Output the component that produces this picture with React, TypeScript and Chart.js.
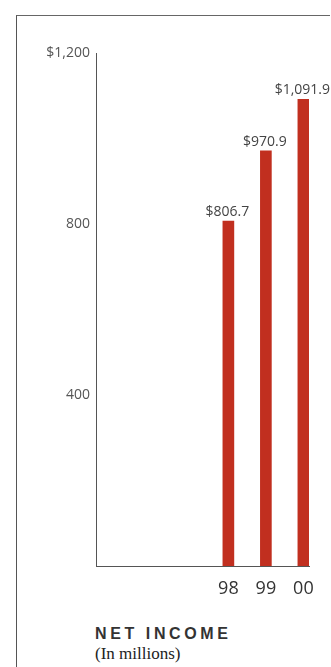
import React, { useEffect, useRef } from "react";
import { Chart, registerables } from "chart.js";

Chart.register(...registerables);

// ---- data ----
const years = [1998, 1999, 2000];
const yearLabels = ["98", "99", "00"];
const netIncome = [806.7, 970.9, 1091.9];
const valueLabels = ["$806.7", "$970.9", "$1,091.9"];
const yTicks = [0, 400, 800, 1200];
const yTickLabels = ["", "400", "800", "$1,200"];
const xRange = [1994.47, 2000.15];

const BAR_COLOR = "#c12f1f";
const TEXT_COLOR = "#444";
const FONT = "'Open Sans', 'Noto Sans', sans-serif";

const valueLabelPlugin = {
  id: "valueLabels",
  afterDatasetsDraw(chart: any) {
    const ctx = chart.ctx;
    const meta = chart.getDatasetMeta(0);
    ctx.save();
    ctx.font = `14px ${FONT}`;
    ctx.fillStyle = TEXT_COLOR;
    ctx.textAlign = "center";
    ctx.textBaseline = "bottom";
    meta.data.forEach((bar: any, i: number) => {
      ctx.fillText(valueLabels[i], bar.x - 1, bar.y - 2);
    });
    ctx.restore();
  },
};

export default function App() {
  const canvasRef = useRef<HTMLCanvasElement | null>(null);

  useEffect(() => {
    if (!canvasRef.current) return;
    const chart = new Chart(canvasRef.current, {
      type: "bar",
      data: {
        datasets: [
          {
            label: "Net income",
            data: years.map((y, i) => ({ x: y, y: netIncome[i] })),
            backgroundColor: BAR_COLOR,
            borderWidth: 0,
            barThickness: 11,
          },
        ],
      },
      options: {
        animation: false,
        responsive: false,
        maintainAspectRatio: false,
        layout: { padding: { top: 53, right: 22, bottom: 14, left: 0 } },
        plugins: {
          legend: { display: false },
          tooltip: { enabled: false },
        },
        scales: {
          x: {
            type: "linear",
            offset: false,
            min: xRange[0],
            max: xRange[1],
            grid: { display: false, drawTicks: false, offset: false },
            border: { display: true, color: "#555", width: 1 },
            afterBuildTicks: (axis: any) => {
              axis.ticks = years.map((v) => ({ value: v }));
            },
            afterFit: (axis: any) => {
              axis.height = 40;
            },
            ticks: {
              autoSkip: false,
              maxRotation: 0,
              padding: 12,
              color: "#333",
              font: { family: FONT, size: 18 },
              callback: (v: any) => {
                const idx = years.indexOf(Number(v));
                return idx >= 0 ? yearLabels[idx] : "";
              },
            },
          },
          y: {
            min: 0,
            max: 1200,
            grid: { display: false, drawTicks: false },
            border: { display: true, color: "#555", width: 1 },
            afterBuildTicks: (axis: any) => {
              axis.ticks = yTicks.map((v) => ({ value: v }));
            },
            afterFit: (axis: any) => {
              axis.width = 96;
            },
            ticks: {
              padding: 6,
              color: "#555",
              font: { family: FONT, size: 14 },
              callback: (v: any) => {
                const idx = yTicks.indexOf(Number(v));
                return idx >= 0 ? yTickLabels[idx] : "";
              },
            },
          },
        },
      },
      plugins: [valueLabelPlugin],
    });
    return () => chart.destroy();
  }, []);

  return (
    <div
      style={{
        position: "fixed",
        left: 0,
        top: 0,
        width: 331,
        height: 667,
        background: "#fff",
        overflow: "hidden",
      }}
    >
      <div
        style={{
          position: "absolute",
          left: 16,
          top: 15,
          width: 313,
          height: 700,
          borderLeft: "1.5px solid #555",
          borderTop: "1.5px solid #666",
        }}
      />
      <canvas
        ref={canvasRef}
        width={331}
        height={620}
        style={{ position: "absolute", left: 0, top: 0, width: 331, height: 620 }}
      />
      <div
        style={{
          position: "absolute",
          left: 95,
          top: 625,
          fontFamily: "'Liberation Sans', Arial, sans-serif",
          fontWeight: 700,
          fontSize: 16,
          letterSpacing: "3.6px",
          color: "#333",
          lineHeight: "17px",
          whiteSpace: "nowrap",
        }}
      >
        NET INCOME
      </div>
      <div
        style={{
          position: "absolute",
          left: 95,
          top: 644,
          fontFamily: "'Liberation Serif', 'Times New Roman', serif",
          fontSize: 17,
          color: "#222",
          lineHeight: "20px",
          whiteSpace: "nowrap",
        }}
      >
        (In millions)
      </div>
    </div>
  );
}
